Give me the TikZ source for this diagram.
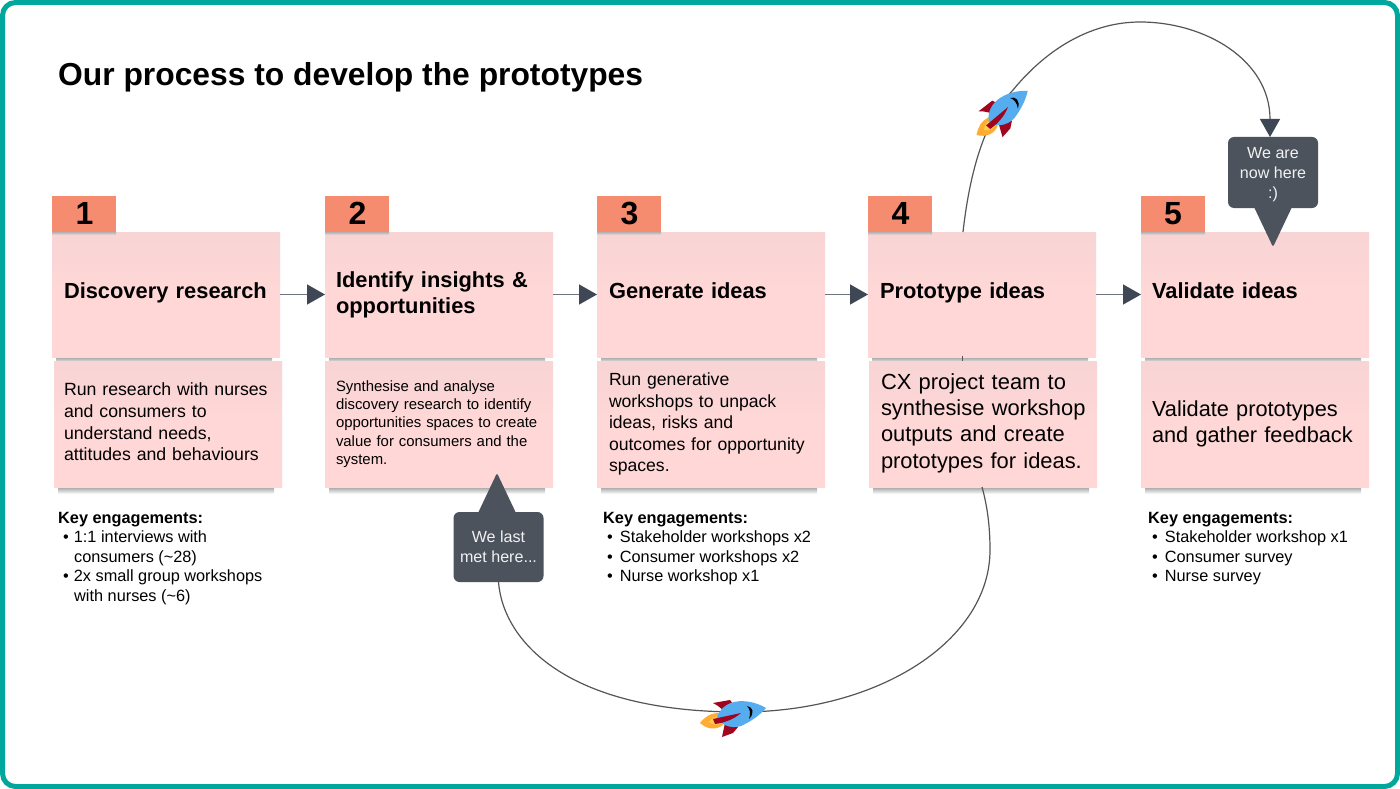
\documentclass[tikz,border=0pt]{standalone}
\usepackage{fontspec}
\setmainfont{Liberation Sans}
\usetikzlibrary{arrows.meta,shapes.geometric,calc}
\definecolor{teal1}{HTML}{00A79D}
\definecolor{pinkbox}{HTML}{FFD7D7}
\definecolor{pinktop}{HTML}{F8D4D4}
\definecolor{tabc}{HTML}{F58B6F}
\definecolor{slatec}{HTML}{4C535D}
\definecolor{headc}{HTML}{3F4755}
\definecolor{linec}{HTML}{6E7580}
\definecolor{curvec}{HTML}{555555}
\definecolor{rblue}{HTML}{55ACEE}
\definecolor{rred}{HTML}{A0041E}
\definecolor{rorange}{HTML}{FFAC33}
\definecolor{ryellow}{HTML}{FFCC4D}
\tikzset{
  x=1pt,y=-1pt,
  card/.style={rectangle,top color=pinktop,bottom color=pinkbox,middle color=pinkbox,minimum width=228pt,inner sep=0pt,outer sep=0pt,align=left,text width=206pt,anchor=north west,text=black},
  uppercard/.style={card,minimum height=125pt,font=\bfseries\fontsize{21.85}{26}\selectfont},
  lowercard/.style={card,minimum height=126pt},
  numtab/.style={rectangle,fill=tabc,minimum width=64pt,minimum height=36pt,inner sep=0pt,outer sep=0pt,anchor=north west,font=\bfseries\fontsize{32}{32}\selectfont,text=black},
  engage/.style={anchor=north west,inner sep=0pt,align=left,font=\fontsize{16.3}{19.6}\selectfont,text=black},
  engagehead/.style={engage,font=\bfseries\fontsize{16.3}{19.6}\selectfont},
  bubble/.style={rectangle,rounded corners=6pt,fill=slatec,text=white!92!slatec,minimum width=90pt,inner sep=0pt,outer sep=0pt,align=center,font=\fontsize{16.1}{20}\selectfont},
  flowarrow/.style={draw=linec,line width=1.4pt,-{Triangle[length=18pt,width=20pt,color=headc,fill=headc]}},
  path1/.style={draw=curvec,line width=1.2pt},
}
\newcommand{\softshadow}[3]{\shade[top color=black!42,bottom color=white] (#1,#3) rectangle (#2,#3+8);}
\newcommand{\tabshadow}[2]{\shade[top color=black!30,bottom color=pinktop] (#1,232) rectangle (#2,235);}
\newcommand{\uplift}{\rule[-15pt]{0pt}{37pt}}
\newcommand{\rocket}[3]{%
\begin{scope}[shift={(#1,#2)},rotate=#3]
  \fill[rorange] (-41,10) .. controls (-35,3) and (-31,0) .. (-21,0) -- (-18,12) .. controls (-25,17) and (-33,17) .. cycle;
  \fill[ryellow] (-32,9) .. controls (-28,4) and (-25,3) .. (-20,3) -- (-19,10) .. controls (-24,13) and (-28,12) .. cycle;
  \fill[rred] (-28,-10) -- (-11,-13) -- (-8,-9) -- (-15,3) .. controls (-17,-3) and (-22,-7) .. cycle;
  \fill[rred] (-16,10) -- (-3,14) -- (-8,20) -- (-19,24) -- cycle;
  \fill[rblue] (25,-5) .. controls (10,-14) and (-16,-17) .. (-24,4) .. controls (-20,14) and (-5,17) .. (4,11) .. controls (12,7) and (20,1) .. cycle;
  \fill[rred] (0,0) -- (-28,6) -- (-26,11) .. controls (-18,10) and (-8,7) .. cycle;
  \fill[black] (6,-7) .. controls (12,-6) and (14,0) .. (8,6) .. controls (10,0) and (9,-4) .. cycle;
\end{scope}}
\begin{document}
\begin{tikzpicture}
\useasboundingbox (0,0) rectangle (1400,789);
\fill[white] (0,0) rectangle (1400,789);
\draw[teal1,line width=5pt,fill=white,rounded corners=13pt] (2.5,2.5) rectangle (1397.5,786.5);

\node[anchor=base west,inner sep=0pt,font=\bfseries\fontsize{31.8}{36}\selectfont,text=black] (title) at (58,86) {Our process to develop the prototypes};

% soft shadows
\softshadow{56}{272}{356}\softshadow{329}{545}{356}\softshadow{601}{817}{356}\softshadow{872}{1088}{356}\softshadow{1145}{1361}{356}
\softshadow{58}{274}{486}\softshadow{329}{545}{486}\softshadow{601}{817}{486}\softshadow{873}{1089}{486}\softshadow{1145}{1361}{486}

% lower cards
\node[lowercard,font=\fontsize{17.7}{21.7}\selectfont] (l1) at (54,361) {\hspace*{-1pt}\mbox{Run research with nurses}\\\hspace*{-1pt}and consumers to\\\hspace*{-1pt}understand needs,\\\hspace*{-1pt}\mbox{attitudes and behaviours}\rule[-4pt]{0pt}{4pt}};
\node[lowercard,font=\fontsize{14.9}{18.3}\selectfont] (l2) at (325,361) {Synthesise and analyse\\discovery research to identify\\opportunities spaces to create\\value for consumers and the\\system.\rule[-2pt]{0pt}{2pt}};
\node[lowercard,font=\fontsize{17.6}{21.5}\selectfont] (l3) at (597,361) {\hspace*{1pt}Run generative\\\hspace*{1pt}workshops to unpack\\\hspace*{1pt}ideas, risks and\\\hspace*{1pt}\mbox{outcomes for opportunity}\\\hspace*{1pt}spaces.};
\node[lowercard,font=\fontsize{21.9}{26.4}\selectfont] (l4) at (869,361) {\hspace*{1pt}CX project team to\\\hspace*{1pt}\mbox{synthesise workshop}\\\hspace*{1pt}outputs and create\\\hspace*{1pt}\mbox{prototypes for ideas.}\rule[-6.5pt]{0pt}{6.5pt}};
\node[lowercard,font=\fontsize{21.75}{26}\selectfont] (l5) at (1141,361) {Validate prototypes\\and gather feedback};

% upper cards
\node[uppercard] (u1) at (52,232) {\hspace*{1pt}\uplift Discovery research};
\node[uppercard] (u2) at (325,232) {Identify insights \&\\opportunities};
\node[uppercard] (u3) at (597,232) {\hspace*{1pt}\uplift Generate ideas};
\node[uppercard] (u4) at (868,232) {\hspace*{1pt}\uplift Prototype ideas};
\node[uppercard] (u5) at (1141,232) {\uplift Validate ideas};

% tabs
\node[numtab] (n1) at (52,196) {\raisebox{2pt}{\hspace*{1pt}1}};
\node[numtab] (n2) at (325,196) {\raisebox{2pt}{\hspace*{1pt}2}};
\node[numtab] (n3) at (597,196) {\raisebox{2pt}{\hspace*{1pt}3}};
\node[numtab] (n4) at (868,196) {\raisebox{2pt}{\hspace*{1pt}4}};
\node[numtab] (n5) at (1141,196) {\raisebox{2pt}{5}};
\tabshadow{52}{116}\tabshadow{325}{389}\tabshadow{597}{661}\tabshadow{868}{932}\tabshadow{1141}{1205}

% flow arrows
\draw[flowarrow] (u1) -- (u2);
\draw[flowarrow] (u2) -- (u3);
\draw[flowarrow] (u3) -- (u4);
\draw[flowarrow] (u4) -- (u5);

% engagements
\node[engagehead] (k1h) at (58,512) {Key engagements:};
\node[engage] (k1) at (63,530.5) {•\hspace{5pt}1:1 interviews with\\\hspace{11pt}consumers (\textasciitilde28)\\•\hspace{5pt}2x small group workshops\\\hspace{11pt}with nurses (\textasciitilde6)};
\node[engagehead] (k3h) at (603,512) {Key engagements:};
\node[engage] (k3) at (607,530.5) {•\hspace{7pt}Stakeholder workshops x2\\•\hspace{7pt}Consumer workshops x2\\•\hspace{7pt}Nurse workshop x1};
\node[engagehead] (k5h) at (1148,512) {Key engagements:};
\node[engage] (k5) at (1152,530.5) {•\hspace{7pt}Stakeholder workshop x1\\•\hspace{7pt}Consumer survey\\•\hspace{7pt}Nurse survey};

% bubbles and curves
\node[bubble,minimum height=71pt] (b2) at (1273,172.5) {\rule{0pt}{15.5pt}We are\\now here\\:)};
\coordinate (c4top) at (963,232);
\coordinate (b2top) at (1270,137);
\draw[path1,-{Triangle[length=18pt,width=20pt,color=headc,fill=headc]}] (c4top) .. controls (970,170) and (985,120) .. (1013,90)
  .. controls (1050,45) and (1095,22) .. (1140,22)
  .. controls (1205,22) and (1270,60) .. (b2top);
\fill[slatec,rounded corners=1.5pt] (1254,207) -- (1273,247) -- (1292,207) -- cycle;

\node[bubble,minimum height=70pt] (b1) at (498.5,547) {We last\\met here...};
\fill[slatec,rounded corners=1.5pt] (478,513) -- (497,473) -- (516,513) -- cycle;
\coordinate (l4low) at (982,487);
\draw[path1] (b1.south) .. controls (503,640) and (565,712) .. (740,712)
  .. controls (880,712) and (990,640) .. (990,550)
  .. controls (990,525) and (987,505) .. (l4low);
\coordinate (tick1) at (962,356);
\coordinate (tick2) at (962,361);
\draw[path1,line width=1pt] (tick1) -- (tick2);

\rocket{741}{713}{0}
\rocket{1008}{107}{28}
\end{tikzpicture}
\end{document}
